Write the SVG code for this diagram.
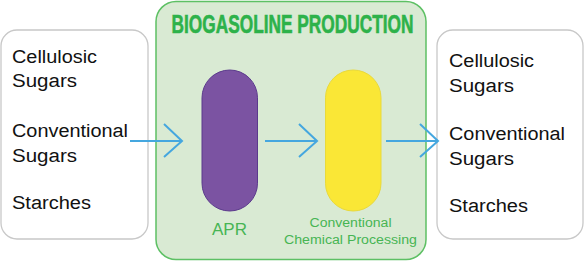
<svg xmlns="http://www.w3.org/2000/svg" width="584" height="262" viewBox="0 0 584 262">
<defs>
<style>
.box{fill:#ffffff;stroke:#c8c8c8;stroke-width:1.3}
.t{font-family:"Liberation Sans",Arial,sans-serif;font-size:18px;fill:#111111}
.g{font-family:"Liberation Sans",Arial,sans-serif;fill:#47b553}
.arrow{fill:none;stroke:#45a7df;stroke-width:2}
</style>
</defs>
<g id="process">
<rect x="156" y="1.5" width="270" height="258" rx="20" fill="#d9ead3" stroke="#5dc064" stroke-width="1.5"/>
<text x="292.5" y="33" text-anchor="middle" font-family="'Liberation Sans',Arial,sans-serif" font-weight="bold" font-size="25" fill="#2db24a" stroke="#2db24a" stroke-width="0.6" textLength="242" lengthAdjust="spacingAndGlyphs">BIOGASOLINE PRODUCTION</text>
</g>
<g id="inputs">
<rect class="box" x="1" y="30" width="147" height="209" rx="16"/>
<text class="t" x="12" y="63" textLength="85" lengthAdjust="spacingAndGlyphs">Cellulosic</text>
<text class="t" x="12" y="87" textLength="65" lengthAdjust="spacingAndGlyphs">Sugars</text>
<text class="t" x="12" y="137" textLength="116" lengthAdjust="spacingAndGlyphs">Conventional</text>
<text class="t" x="12" y="161.5" textLength="65" lengthAdjust="spacingAndGlyphs">Sugars</text>
<text class="t" x="12" y="209" textLength="79" lengthAdjust="spacingAndGlyphs">Starches</text>
</g>
<g id="apr">
<rect x="202" y="70" width="55.5" height="141" rx="27.75" fill="#7b53a2" stroke="#5b3a8c" stroke-width="1"/>
<text class="g" x="229.5" y="235" text-anchor="middle" font-size="16" textLength="35" lengthAdjust="spacingAndGlyphs">APR</text>
</g>
<g id="ccp">
<rect x="325.5" y="70" width="55.5" height="141" rx="27.75" fill="#fae736" stroke="#e9d93a" stroke-width="1"/>
<text class="g" x="350.5" y="227" text-anchor="middle" font-size="12.5" textLength="82" lengthAdjust="spacingAndGlyphs">Conventional</text>
<text class="g" x="350.5" y="244" text-anchor="middle" font-size="12.5" textLength="133" lengthAdjust="spacingAndGlyphs">Chemical Processing</text>
</g>
<g id="outputs">
<rect class="box" x="437" y="30" width="146" height="209" rx="16"/>
<text class="t" x="449" y="66.5" textLength="85" lengthAdjust="spacingAndGlyphs">Cellulosic</text>
<text class="t" x="449" y="91.5" textLength="65" lengthAdjust="spacingAndGlyphs">Sugars</text>
<text class="t" x="449" y="140" textLength="116" lengthAdjust="spacingAndGlyphs">Conventional</text>
<text class="t" x="449" y="164.5" textLength="65" lengthAdjust="spacingAndGlyphs">Sugars</text>
<text class="t" x="449" y="212" textLength="79" lengthAdjust="spacingAndGlyphs">Starches</text>
</g>
<g id="connectors">
<path class="arrow" d="M130 141H182M164 124L182 141L164 157"/>
<path class="arrow" d="M265 141H317M299 124L317 141L299 157"/>
<path class="arrow" d="M386 141H438M420 124L438 141L420 157"/>
</g>
</svg>
